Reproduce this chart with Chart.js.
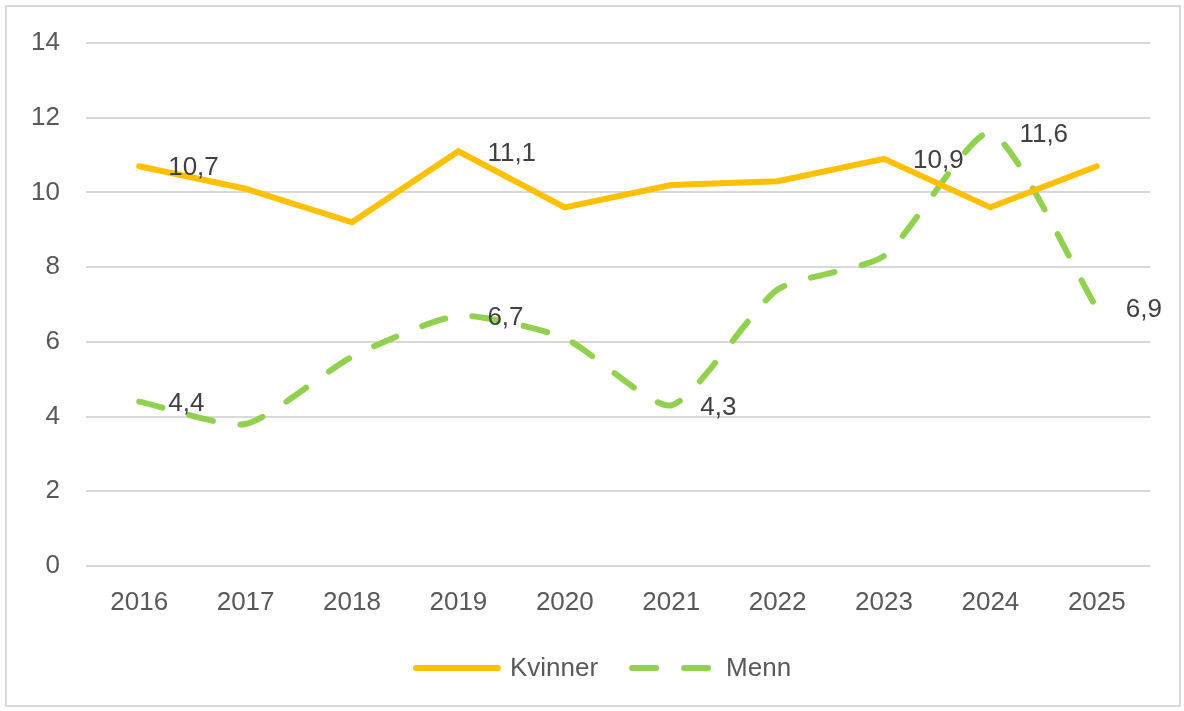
<!DOCTYPE html>
<html>
<head>
<meta charset="utf-8">
<script src="https://cdn.jsdelivr.net/npm/chart.js@4"></script>
<style>
  html, body { margin: 0; padding: 0; background: #fff; }
  #frame {
    position: absolute; left: 5px; top: 5px;
    width: 1172px; height: 698px;
    border: 2px solid #d9d9d9;
  }
  #wrap { position: absolute; left: 0; top: 0; width: 1184px; height: 711px; }
</style>
</head>
<body>
<div id="frame"></div>
<div id="wrap"><canvas id="chart" width="1184" height="711"></canvas></div>
<script>
// Data
const years = ['2016', '2017', '2018', '2019', '2020', '2021', '2022', '2023', '2024', '2025'];
const kvinner = [10.7, 10.1, 9.2, 11.1, 9.6, 10.2, 10.3, 10.9, 9.6, 10.7];
const menn = [4.4, 3.8, 5.6, 6.7, 6.1, 4.3, 7.4, 8.3, 11.6, 6.9];
const yTicks = [0, 2, 4, 6, 8, 10, 12, 14];

// which points carry a value label
const kvinnerLabels = [0, 3, 7];
const mennLabels = [0, 3, 5, 8, 9];

const FONT = '"Liberation Sans", Arial, sans-serif';
const MENN_DASH = [24, 28];

// Draws the value labels to the right of the chosen points (Excel style, comma decimals)
const valueLabels = {
    id: 'valueLabels',
    afterDatasetsDraw(chart) {
        const ctx = chart.ctx;
        ctx.save();
        ctx.font = '26px ' + FONT;
        ctx.fillStyle = '#404040';
        ctx.textAlign = 'left';
        ctx.textBaseline = 'middle';
        const sets = [kvinnerLabels, mennLabels];
        sets.forEach((idxList, di) => {
            const meta = chart.getDatasetMeta(di);
            idxList.forEach(i => {
                const pt = meta.data[i];
                const v = chart.data.datasets[di].data[i];
                ctx.fillText(v.toFixed(1).replace('.', ','), pt.x + 29, pt.y + 2);
            });
        });
        ctx.restore();
    }
};

// Own legend, since the built-in one won't draw the dashed sample
const lineLegend = {
    id: 'lineLegend',
    afterDraw(chart) {
        const ctx = chart.ctx;
        const sets = chart.data.datasets;
        const sample = 88, gapText = 9, gapItem = 31;
        ctx.save();
        ctx.font = '26px ' + FONT;
        let total = 0;
        sets.forEach((ds, i) => {
            total += sample + gapText + ctx.measureText(ds.label).width;
            if (i < sets.length - 1) total += gapItem;
        });
        let x = (chart.width - total) / 2 + 10;
        const y = 668;
        sets.forEach(ds => {
            ctx.beginPath();
            ctx.strokeStyle = ds.borderColor;
            ctx.lineWidth = ds.borderWidth;
            ctx.lineCap = 'round';
            ctx.setLineDash(ds.borderDash || []);
            ctx.moveTo(x + 3, y);
            ctx.lineTo(x + sample - 3, y);
            ctx.stroke();
            ctx.setLineDash([]);
            x += sample + gapText;
            ctx.fillStyle = '#595959';
            ctx.textAlign = 'left';
            ctx.textBaseline = 'middle';
            ctx.fillText(ds.label, x, y + 1);
            x += ctx.measureText(ds.label).width + gapItem;
        });
        ctx.restore();
    }
};

Chart.defaults.font.family = FONT;
Chart.defaults.font.size = 26;
Chart.defaults.color = '#595959';

new Chart(document.getElementById('chart'), {
    type: 'line',
    data: {
        labels: years,
        datasets: [
            {
                label: 'Kvinner',
                data: kvinner,
                borderColor: '#FFC000',
                backgroundColor: '#FFC000',
                borderWidth: 6,
                borderCapStyle: 'round',
                borderJoinStyle: 'miter',
                pointRadius: 0,
                tension: 0
            },
            {
                label: 'Menn',
                data: menn,
                borderColor: '#92D050',
                backgroundColor: '#92D050',
                borderWidth: 6,
                borderDash: MENN_DASH,
                borderCapStyle: 'round',
                pointRadius: 0,
                tension: 0.2
            }
        ]
    },
    options: {
        responsive: false,
        animation: false,
        layout: { padding: { left: 10, right: 34, top: 43, bottom: 86 } },
        plugins: {
            legend: { display: false },
            tooltip: { enabled: false }
        },
        scales: {
            x: {
                offset: true,
                grid: { display: false, drawTicks: false },
                border: { display: false },
                ticks: { padding: 21, color: '#595959' },
                afterFit: s => { s.height = 59; }
            },
            y: {
                min: 0,
                max: 14,
                afterBuildTicks: s => { s.ticks = yTicks.map(v => ({ value: v })); },
                grid: { color: '#d9d9d9', lineWidth: 2, drawTicks: false },
                border: { display: false },
                ticks: { padding: 26, color: '#595959' },
                afterFit: s => { s.width = 76; }
            }
        }
    },
    plugins: [valueLabels, lineLegend]
});
</script>
</body>
</html>
